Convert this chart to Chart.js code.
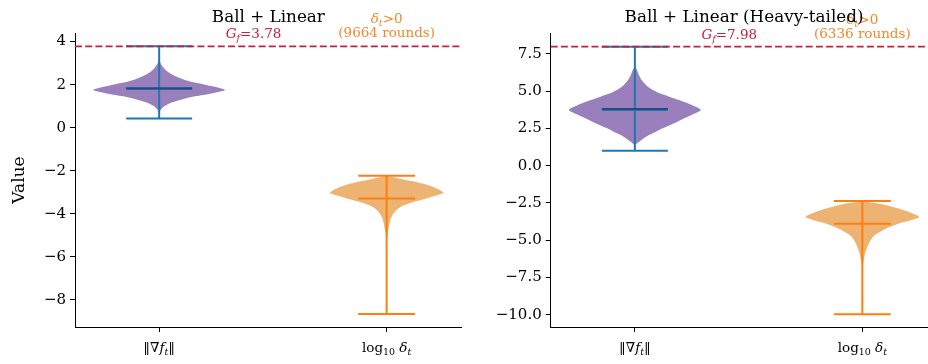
<!DOCTYPE html>
<html><head><meta charset="utf-8">
<script src="https://cdn.jsdelivr.net/npm/chart.js@4.4.1/dist/chart.umd.min.js"></script>
<style>
html,body{margin:0;padding:0;background:#fff;overflow:hidden;width:928px;height:364px;position:relative}
canvas{position:absolute;top:0}
</style></head><body>
<canvas id="c1" width="464" height="364" style="left:0;width:464px;height:364px"></canvas>
<canvas id="c2" width="480" height="364" style="left:464px;width:480px;height:364px"></canvas>
<script>
// ---------- data ----------
const positions = [1, 2];
const bodyWidths = [0.58, 0.5];
const xTickParts = [
  [{t:'‖∇'},{t:'f',it:1},{t:'t',it:1,sub:1},{t:'‖'}],
  [{t:'log'},{t:'10',sub:1},{t:' '},{t:'δ',it:1},{t:'t',it:1,sub:1}]
];

// Panel A: Ball + Linear
const titleA = 'Ball + Linear';
const gfA = 3.78;
const roundsA = 9664;
const yRangeA = [-9.27, 4.40];
const yTicksA = [-8, -6, -4, -2, 0, 2, 4];
const gradYA = [3.40, 3.20, 3.00, 2.85, 2.70, 2.55, 2.40, 2.25, 2.12, 2.03, 1.93, 1.85, 1.75, 1.66, 1.59, 1.50, 1.42, 1.30, 1.18, 1.05, 0.95, 0.85, 0.75, 0.60];
const gradWA = [0.00, 0.005, 0.02, 0.05, 0.09, 0.15, 0.24, 0.36, 0.50, 0.65, 0.79, 0.90, 1.00, 0.90, 0.79, 0.64, 0.49, 0.33, 0.20, 0.11, 0.06, 0.03, 0.01, 0.00];
const deltaYA = [-2.24, -2.30, -2.40, -2.51, -2.67, -2.85, -3.03, -3.13, -3.24, -3.37, -3.52, -3.68, -3.84, -3.99, -4.25, -4.61, -5.07, -5.60, -6.20];
const deltaWA = [0.00, 0.10, 0.27, 0.48, 0.72, 0.90, 1.00, 0.90, 0.76, 0.60, 0.40, 0.25, 0.17, 0.12, 0.07, 0.04, 0.012, 0.003, 0.00];
const gradStatsA = [0.42, 3.78, 1.80, 1.83];   // min, max, mean, median
const deltaStatsA = [-8.67, -2.24, -3.29];     // min, max, mean

// Panel B: Ball + Linear (Heavy-tailed)
const titleB = 'Ball + Linear (Heavy-tailed)';
const gfB = 7.98;
const roundsB = 6336;
const yRangeB = [-10.82, 8.90];
const yTicksB = [-10, -7.5, -5, -2.5, 0, 2.5, 5, 7.5];
const gradYB = [6.90, 6.60, 6.43, 6.10, 5.76, 5.45, 5.19, 4.95, 4.75, 4.50, 4.30, 4.05, 3.74, 3.45, 3.12, 2.80, 2.52, 2.28, 2.07, 1.85, 1.62, 1.45, 1.30];
const gradWB = [0.00, 0.01, 0.03, 0.06, 0.10, 0.16, 0.23, 0.33, 0.44, 0.60, 0.73, 0.87, 1.00, 0.88, 0.72, 0.57, 0.43, 0.32, 0.22, 0.14, 0.07, 0.02, 0.00];
const deltaYB = [-2.37, -2.45, -2.55, -2.70, -2.86, -3.02, -3.19, -3.32, -3.46, -3.62, -3.89, -4.10, -4.31, -4.54, -4.76, -5.10, -5.43, -5.80, -6.21, -6.65, -7.20];
const deltaWB = [0.00, 0.12, 0.30, 0.48, 0.62, 0.76, 0.88, 0.96, 1.00, 0.88, 0.63, 0.49, 0.37, 0.27, 0.19, 0.13, 0.09, 0.055, 0.03, 0.01, 0.00];
const gradStatsB = [1.01, 7.98, 3.74, 3.81];
const deltaStatsB = [-9.97, -2.37, -3.89];

const xRange = [0.63, 2.33];

// ---------- styles ----------
const FONT = "'DejaVu Serif', serif";
const PURPLE = 'rgb(153,127,187)';
const ORANGE_FILL = 'rgb(237,179,115)';
const BLUE = '#1f77b4';
const DARK = '#24497f';
const ORANGE = '#ff7f0e';
const RED = '#c8203c';
const ANN_ORANGE = '#ec8a2c';

function violinPoly(pos, width, ys, ws) {
  const pts = [];
  for (let i = 0; i < ys.length; i++) pts.push({x: pos + ws[i] * width / 2, y: ys[i]});
  for (let i = ys.length - 1; i >= 0; i--) pts.push({x: pos - ws[i] * width / 2, y: ys[i]});
  pts.push({x: pts[0].x, y: pts[0].y});
  return pts;
}
function seg(x1, y1, x2, y2, color, w, order, dash) {
  return {data: [{x: x1, y: y1}, {x: x2, y: y2}], showLine: true, borderColor: color, borderWidth: w,
    pointRadius: 0, fill: false, tension: 0, order: order, borderDash: dash || [], borderCapStyle: 'butt'};
}
function body(pts, color) {
  return {data: pts, showLine: true, borderColor: 'rgba(0,0,0,0)', borderWidth: 0, backgroundColor: color,
    pointRadius: 0, fill: 'shape', tension: 0.25, order: 5};
}

function richWidth(ctx, parts, size) {
  let w = 0;
  for (const p of parts) {
    const s = p.sub ? size * 0.7 : size;
    ctx.font = (p.it ? 'italic ' : '') + s + 'px ' + FONT;
    w += ctx.measureText(p.t).width;
  }
  return w;
}
function drawRich(ctx, parts, cx, baseline, size, color) {
  const w = richWidth(ctx, parts, size);
  let x = cx - w / 2;
  ctx.fillStyle = color;
  ctx.textAlign = 'left';
  ctx.textBaseline = 'alphabetic';
  for (const p of parts) {
    const s = p.sub ? size * 0.7 : size;
    ctx.font = (p.it ? 'italic ' : '') + s + 'px ' + FONT;
    ctx.fillText(p.t, x, baseline + (p.sub ? size * 0.22 : 0));
    x += ctx.measureText(p.t).width;
  }
}
const minus = v => String(v).replace('-', '\u2212');

function makePanel(id, P) {
  const ds = [];
  ds.push(body(violinPoly(positions[0], bodyWidths[0], P.gradY, P.gradW), PURPLE));
  ds.push(body(violinPoly(positions[1], bodyWidths[1], P.deltaY, P.deltaW), ORANGE_FILL));
  const c0 = bodyWidths[0] * 0.25, c1 = bodyWidths[1] * 0.25;
  const g = P.gradStats, d = P.deltaStats;
  ds.push(seg(positions[0], g[0], positions[0], g[1], BLUE, 2, 3));
  ds.push(seg(positions[0] - c0, g[0], positions[0] + c0, g[0], BLUE, 2, 3));
  ds.push(seg(positions[0] - c0, g[1], positions[0] + c0, g[1], BLUE, 2, 3));
  ds.push(seg(positions[0] - c0, g[2], positions[0] + c0, g[2], BLUE, 2, 3));
  ds.push(seg(positions[0] - c0, g[3], positions[0] + c0, g[3], DARK, 2, 2));
  ds.push(seg(positions[1], d[0], positions[1], d[1], ORANGE, 2, 3));
  ds.push(seg(positions[1] - c1, d[0], positions[1] + c1, d[0], ORANGE, 2, 3));
  ds.push(seg(positions[1] - c1, d[1], positions[1] + c1, d[1], ORANGE, 2, 3));
  ds.push(seg(positions[1] - c1, d[2], positions[1] + c1, d[2], ORANGE, 2, 3));
  ds.push(seg(xRange[0], P.gf, xRange[1], P.gf, RED, 1.7, 1, [7, 3.2]));

  const textPlugin = {
    id: 'texts',
    afterDraw(chart) {
      const ctx = chart.ctx, xs = chart.scales.x, ys = chart.scales.y, ca = chart.chartArea;
      ctx.save();
      positions.forEach((p, i) => drawRich(ctx, xTickParts[i], xs.getPixelForValue(p), 352, 13.5, '#000'));
      const yg = ys.getPixelForValue(P.gf);
      drawRich(ctx, [{t:'G',it:1},{t:'f',it:1,sub:1},{t:'=' + P.gf.toFixed(2)}],
        xs.getPixelForValue(1.415), yg - 8, 13.5, RED);
      drawRich(ctx, [{t:'δ',it:1},{t:'t',it:1,sub:1},{t:'>0'}], xs.getPixelForValue(positions[1]), yg - 23, 13.5, ANN_ORANGE);
      drawRich(ctx, [{t:'(' + P.rounds + ' rounds)'}], xs.getPixelForValue(positions[1]), yg - 9, 13.5, ANN_ORANGE);
      ctx.fillStyle = '#000';
      ctx.font = '16.8px ' + FONT;
      ctx.textAlign = 'center';
      ctx.textBaseline = 'alphabetic';
      ctx.fillText(P.title, (ca.left + ca.right) / 2, 22);
      if (P.ylabel) {
        ctx.translate(20, (ca.top + ca.bottom) / 2);
        ctx.rotate(-Math.PI / 2);
        ctx.font = '17px ' + FONT;
        ctx.textBaseline = 'middle';
        ctx.fillText(P.ylabel, 0, 0);
      }
      ctx.restore();
    }
  };

  new Chart(document.getElementById(id), {
    type: 'scatter',
    data: {datasets: ds},
    options: {
      responsive: false, animation: false, events: [],
      layout: {padding: {top: 33, left: 0, right: P.padRight, bottom: 0}},
      plugins: {legend: {display: false}, tooltip: {enabled: false}},
      scales: {
        x: {
          type: 'linear', min: xRange[0], max: xRange[1],
          afterBuildTicks: s => { s.ticks = positions.map(v => ({value: v})); },
          afterFit: s => { s.height = 37; },
          ticks: {callback: () => '', font: {family: FONT, size: 13}},
          grid: {drawOnChartArea: false, drawTicks: true, tickLength: 5, color: '#000', lineWidth: 1},
          border: {display: true, color: '#000', width: 1}
        },
        y: {
          type: 'linear', min: P.yRange[0], max: P.yRange[1],
          afterBuildTicks: s => { s.ticks = P.yTicks.map(v => ({value: v})); },
          afterFit: s => { s.width = P.axisW; },
          ticks: {callback: v => minus(P.fmt(v)), font: {family: FONT, size: 15}, color: '#000', padding: 4},
          grid: {drawOnChartArea: false, drawTicks: true, tickLength: 5, color: '#000', lineWidth: 1},
          border: {display: true, color: '#000', width: 1}
        }
      }
    },
    plugins: [textPlugin]
  });
}

makePanel('c1', {title: titleA, gf: gfA, rounds: roundsA, yRange: yRangeA, yTicks: yTicksA,
  gradY: gradYA, gradW: gradWA, deltaY: deltaYA, deltaW: deltaWA, gradStats: gradStatsA, deltaStats: deltaStatsA,
  fmt: v => String(v), axisW: 75, padRight: 2.3, ylabel: 'Value'});
makePanel('c2', {title: titleB, gf: gfB, rounds: roundsB, yRange: yRangeB, yTicks: yTicksB,
  gradY: gradYB, gradW: gradWB, deltaY: deltaYB, deltaW: deltaWB, gradStats: gradStatsB, deltaStats: deltaStatsB,
  fmt: v => v.toFixed(1), axisW: 86.7, padRight: 6.6, ylabel: ''});
</script>
</body></html>
